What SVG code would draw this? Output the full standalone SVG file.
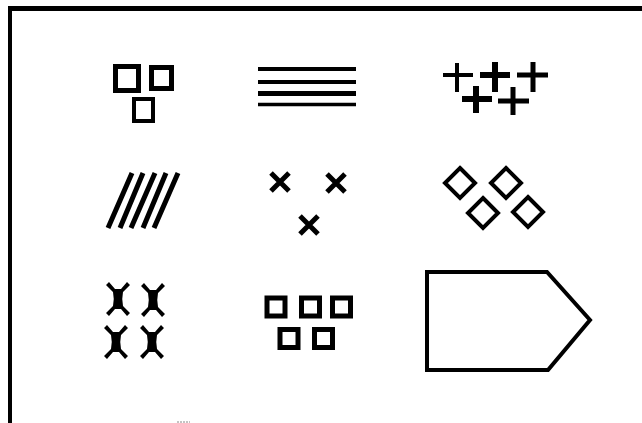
<svg xmlns="http://www.w3.org/2000/svg" xmlns:xlink="http://www.w3.org/1999/xlink" width="642" height="423" viewBox="0 0 642 423">
<style>
.s{fill:none;stroke:#000;stroke-linecap:butt;stroke-linejoin:miter}
.f{fill:#000}
</style>
<defs>
<path id="hg" class="f" d="M-12,-14 L-9,-17 L-3,-10 L3,-10 L9,-17 L12,-14 L5,-7 Q3.5,0 5,7 L12,14 L9,17 L3,10 L-3,10 L-9,17 L-12,14 L-5,7 Q-3.5,0 -5,-7 Z"/>
<path id="xx" class="s" stroke-width="5" d="M-9,-9 L9,9 M9,-9 L-9,9"/>
<rect id="sq" x="-9" y="-9" width="18" height="18" class="s" stroke-width="5"/>
<path id="dm" class="s" stroke-width="4" d="M0,-15 L15,0 L0,15 L-15,0 Z"/>
</defs>
<rect width="642" height="423" fill="#fff"/>
<g id="frame">
<path class="s" stroke-width="5" d="M10,8.5 L642,8.5"/>
<path class="s" stroke-width="4" d="M10,6 L10,423"/>
<path d="M177,422 L190,422" stroke="#888" stroke-width="1" stroke-dasharray="2,1"/>
</g>
<g id="squares">
<rect x="115.5" y="66.5" width="23" height="24" class="s" stroke-width="5"/>
<rect x="151.5" y="67.5" width="20" height="21" class="s" stroke-width="5"/>
<rect x="134" y="99" width="19" height="22" class="s" stroke-width="4"/>
</g>
<g id="lines">
<path class="s" d="M258,69 L356,69" stroke-width="4"/>
<path class="s" d="M258,82 L356,82" stroke-width="4"/>
<path class="s" d="M258,93.5 L356,93.5" stroke-width="5"/>
<path class="s" d="M258,104.5 L356,104.5" stroke-width="3.5"/>
</g>
<g id="pluses">
<path class="s" stroke-width="4" d="M443,75 L473,75 M457,63 L457,92"/>
<path class="s" stroke-width="6" d="M480,75 L510,75 M495,62 L495,92"/>
<path class="s" stroke-width="5" d="M517,75 L548,75 M533,62 L533,92"/>
<path class="s" stroke-width="6" d="M462,99 L492,99 M476,86 L476,113"/>
<path class="s" stroke-width="5" d="M498,101 L529,101 M513,87 L513,115"/>
</g>
<g id="slashes">
<path class="s" stroke-width="5" d="M132,173 L108,228 M143,173 L120,228 M155,173 L131,228 M166,173 L143,228 M178,173 L154,228"/>
</g>
<g id="crosses">
<use xlink:href="#xx" x="280" y="182"/>
<use xlink:href="#xx" x="336" y="183"/>
<use xlink:href="#xx" x="309" y="225"/>
</g>
<g id="diamonds">
<use xlink:href="#dm" x="460" y="183"/>
<use xlink:href="#dm" x="506" y="183"/>
<use xlink:href="#dm" x="483" y="213"/>
<use xlink:href="#dm" x="528" y="212"/>
</g>
<g id="hourglasses">
<use xlink:href="#hg" x="118" y="299"/>
<use xlink:href="#hg" x="153" y="300"/>
<use xlink:href="#hg" x="116" y="342"/>
<use xlink:href="#hg" x="152" y="342"/>
</g>
<g id="smallsquares">
<use xlink:href="#sq" x="276" y="307"/>
<use xlink:href="#sq" x="310.5" y="307"/>
<use xlink:href="#sq" x="341.5" y="307"/>
<use xlink:href="#sq" x="289" y="338.5"/>
<use xlink:href="#sq" x="323.5" y="338.5"/>
</g>
<g id="pentagon">
<path class="s" stroke-width="4" d="M427,272 L547,272 L590,320 L548,370 L427,370 Z"/>
</g>
</svg>
